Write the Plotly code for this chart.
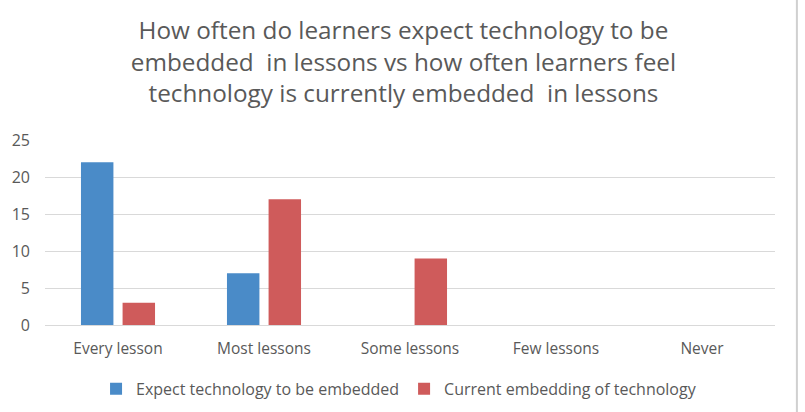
import plotly.graph_objects as go

categories = ["Every lesson", "Most lessons", "Some lessons", "Few lessons", "Never"]
expect = [22, 7, 0, 0, 0]
current = [3, 17, 9, 0, 0]
series_names = ["Expect technology to be embedded", "Current embedding of technology"]
y_ticks = [0, 5, 10, 15, 20, 25]

FONT = "Open Sans, sans-serif"
GREY = "#595959"

fig = go.Figure()
fig.add_trace(go.Bar(x=categories, y=expect, name=series_names[0],
                     marker=dict(color="#4A8BC8", line=dict(width=0))))
fig.add_trace(go.Bar(x=categories, y=current, name=series_names[1],
                     marker=dict(color="#CF5B5B", line=dict(width=0))))

fig.update_layout(
    width=805, height=412,
    paper_bgcolor="white", plot_bgcolor="white",
    margin=dict(l=45, r=30, t=140, b=87, autoexpand=False),
    barmode="group", bargap=0.43, bargroupgap=0.22,
    font=dict(family=FONT, color=GREY, size=15),
    title=dict(
        text="How often do learners expect technology to be<br>embedded  in lessons vs how often learners feel<br>technology is currently embedded  in lessons",
        x=0.491, xanchor="center", y=0.905, yanchor="top",
        xref="paper",
        font=dict(family=FONT, size=24.3, color=GREY),
    ),
    xaxis=dict(showgrid=False, showline=False, ticks="", ticklabelstandoff=12,
               tickfont=dict(size=15.5, color=GREY)),
    yaxis=dict(range=[0, 25], tickvals=y_ticks, showgrid=True, gridcolor="#D9D9D9",
               gridwidth=1, zeroline=True, zerolinecolor="#D9D9D9", zerolinewidth=1,
               showline=False, ticks="", ticklabelstandoff=14,
               tickfont=dict(size=16, color=GREY)),
    legend=dict(orientation="h", x=0.485, xanchor="center", y=-0.345, yanchor="middle",
                font=dict(size=16, color=GREY), itemwidth=30, traceorder="normal"),
    shapes=[dict(type="line", xref="paper", yref="paper", x0=1.03, x1=1.03,
                 y0=-1, y1=3, line=dict(color="#D0D0D0", width=2))],
)

fig.write_html("out.html")
